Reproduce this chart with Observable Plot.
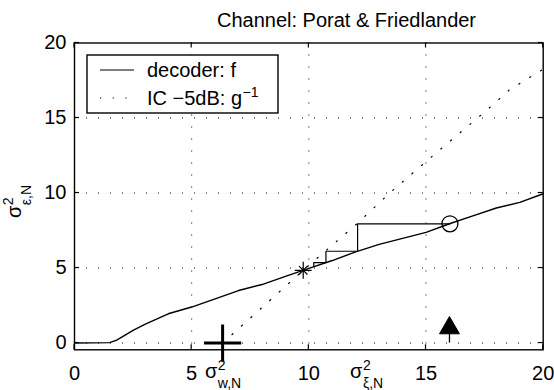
<!DOCTYPE html>
<html><head><meta charset="utf-8">
<script src="https://cdn.jsdelivr.net/npm/d3@7"></script>
<script src="https://cdn.jsdelivr.net/npm/@observablehq/plot@0.6"></script>
<style>html,body{margin:0;padding:0;background:#fff} svg{display:block}</style>
</head><body><div id="chart"></div>
<script>
// ---- data ----
const titleText = "Channel: Porat & Friedlander";
const xTicks = [0, 5, 10, 15, 20];
const yTicks = [0, 5, 10, 15, 20];
const gridXTicks = [5, 10, 15];
const gridYTicks = [0, 5, 10, 15];

// decoder transfer curve f
const fX = [0, 1.5, 1.8, 2.5, 3.0, 4.0, 5.0, 6.0, 7.0, 8.0, 9.0, 10.0, 11.0, 12.0, 13.0, 14.0, 15.0, 16.0, 17.0, 18.0, 19.0, 20.0];
const fY = [0, 0.03, 0.2, 0.85, 1.25, 1.95, 2.4, 2.95, 3.5, 3.9, 4.45, 4.98, 5.5, 6.08, 6.58, 6.98, 7.38, 7.95, 8.48, 9.0, 9.38, 9.95];

// inverse IC curve g^-1 (dotted)
const gX = [6.32, 8.0, 9.76, 12.05, 13.45, 15.3, 17.65, 18.56, 19.84, 20.0];
const gY = [0, 2.37, 4.85, 7.95, 10.0, 12.5, 15.6, 16.88, 18.1, 18.25];

// cobweb staircase
const stairX = [16.02, 12.08, 12.08, 10.73, 10.73, 10.21, 10.21];
const stairY = [7.95, 7.95, 6.12, 6.12, 5.36, 5.36, 5.12];

// special markers
const startPoint = [{x: 16.02, y: 7.95}];      // circle
const fixedPoint = [{x: 9.76, y: 4.85}];       // asterisk
const noisePoint = [{x: 6.32, y: 0}];          // big plus
const stemPoint  = [{x: 16.0, y: 1.0}];        // stem with triangle

// axis annotations under the x axis (left x of sigma)
const sigmaLabels = [{x: 5.59, sub: "w,N"}, {x: 11.78, sub: "ξ,N"}];
const legendItems = [{label: "decoder: f", dash: null}, {label: "IC −5dB: g", sup: "−1", dash: "1.2,11.5"}];

const fData = fX.map((x, i) => ({x, y: fY[i]}));
const gData = gX.map((x, i) => ({x, y: gY[i]}));
const stair = stairX.map((x, i) => ({x, y: stairY[i]}));

const font = "'Liberation Sans', Arial, Helvetica, sans-serif";
const chart = Plot.plot({
  width: 554, height: 390,
  marginLeft: 74, marginRight: 11.3, marginTop: 42.5, marginBottom: 40.7,
  style: {fontFamily: font, fontSize: "20px", background: "white", color: "black", overflow: "visible"},
  x: {domain: [0, 20]},
  y: {domain: [-0.45, 20]},
  marks: [
    Plot.gridX(gridXTicks, {stroke: "black", strokeOpacity: 1, strokeWidth: 1, strokeDasharray: "1,11"}),
    Plot.gridY(gridYTicks, {stroke: "black", strokeOpacity: 1, strokeWidth: 1, strokeDasharray: "1,11"}),
    Plot.axisX({ticks: xTicks, tickSize: 0, tickPadding: 16, label: null, fontSize: 20}),
    Plot.axisY({ticks: yTicks, tickSize: 0, tickPadding: 8, label: null, fontSize: 20}),
    Plot.line(gData, {x: "x", y: "y", stroke: "black", strokeWidth: 1.2, strokeDasharray: "1.2,11.5"}),
    Plot.line(fData, {x: "x", y: "y", stroke: "black", strokeWidth: 1.4}),
    Plot.line(stair, {x: "x", y: "y", stroke: "black", strokeWidth: 1.2}),
    Plot.ruleX(stemPoint, {x: "x", y1: 0, y2: "y", stroke: "black", strokeWidth: 1.3}),
    Plot.dot(stemPoint, {x: "x", y: "y", symbol: "triangle", r: 7.4, fill: "black", stroke: "black", strokeWidth: 1}),
    Plot.dot(noisePoint, {x: "x", y: "y", symbol: "plus", r: 12, stroke: "black", strokeWidth: 3}),
    Plot.dot(fixedPoint, {x: "x", y: "y", symbol: "plus", r: 5.5, stroke: "black", strokeWidth: 1.2}),
    Plot.dot(fixedPoint, {x: "x", y: "y", symbol: "times", r: 3.9, stroke: "black", strokeWidth: 1.2}),
    Plot.dot(startPoint, {x: "x", y: "y", symbol: "circle", r: 8, stroke: "black", fill: "none", strokeWidth: 1.3}),
    Plot.frame({stroke: "black", strokeWidth: 1.4})
  ]
});
document.getElementById("chart").appendChild(chart);

const svg = d3.select(chart);
const sx = chart.scale("x"), sy = chart.scale("y");
const [x0, x1] = sx.range;
const [yB, yT] = sy.range;
const tickLen = 5;
const tg = svg.append("g").attr("stroke", "black").attr("stroke-width", 1.2);
for (const t of xTicks) {
  const px = sx.apply(t);
  tg.append("line").attr("x1", px).attr("x2", px).attr("y1", yB).attr("y2", yB - tickLen);
  tg.append("line").attr("x1", px).attr("x2", px).attr("y1", yT).attr("y2", yT + tickLen);
}
for (const t of yTicks) {
  const py = sy.apply(t);
  tg.append("line").attr("y1", py).attr("y2", py).attr("x1", x0).attr("x2", x0 + tickLen);
  tg.append("line").attr("y1", py).attr("y2", py).attr("x1", x1).attr("x2", x1 - tickLen);
}

const tx = svg.append("g").attr("font-family", font).attr("fill", "black").attr("text-anchor", "start");
// title
tx.append("text").attr("x", 217).attr("y", 26.7)
  .attr("font-size", 20).text(titleText);

// sigma labels under x axis
const baseY = yB + 29;
for (const s of sigmaLabels) {
  const px = sx.apply(s.x);
  const t = tx.append("text").attr("x", px).attr("y", baseY).attr("font-size", 20).text("σ");
  const w = t.node().getComputedTextLength();
  tx.append("text").attr("x", px + w + 0.5).attr("y", baseY - 8).attr("font-size", 14).text("2");
  tx.append("text").attr("x", px + w + 0.5).attr("y", baseY + 10).attr("font-size", 14).text(s.sub);
}

// y axis label (rotated)
const yl = tx.append("g").attr("transform", "translate(21,218) rotate(-90)");
const ys = yl.append("text").attr("x", 0).attr("y", 0).attr("font-size", 20).text("σ");
const yw = ys.node().getComputedTextLength();
yl.append("text").attr("x", yw + 0.5).attr("y", -8).attr("font-size", 14).text("2");
yl.append("text").attr("x", yw + 0.5).attr("y", 10).attr("font-size", 14).text("ε,N");

// legend
const lg = svg.append("g").attr("text-anchor", "start");
lg.append("rect").attr("x", 87).attr("y", 55).attr("width", 191).attr("height", 58)
  .attr("fill", "white").attr("stroke", "black").attr("stroke-width", 1.4);
legendItems.forEach((it, i) => {
  const ly = 70 + i * 28;
  const ln = lg.append("line").attr("x1", 100).attr("x2", 134).attr("y1", ly).attr("y2", ly)
    .attr("stroke", "black").attr("stroke-width", 1.2);
  if (it.dash) ln.attr("stroke-dasharray", it.dash);
  const t = lg.append("text").attr("x", 147).attr("y", ly + 7).attr("font-family", font)
    .attr("font-size", 20).attr("fill", "black").text(it.label);
  if (it.sup) {
    const w = t.node().getComputedTextLength();
    lg.append("text").attr("x", 147 + w + 0.5).attr("y", ly - 1).attr("font-family", font)
      .attr("font-size", 14).attr("fill", "black").text(it.sup);
  }
});
</script>
</body></html>
